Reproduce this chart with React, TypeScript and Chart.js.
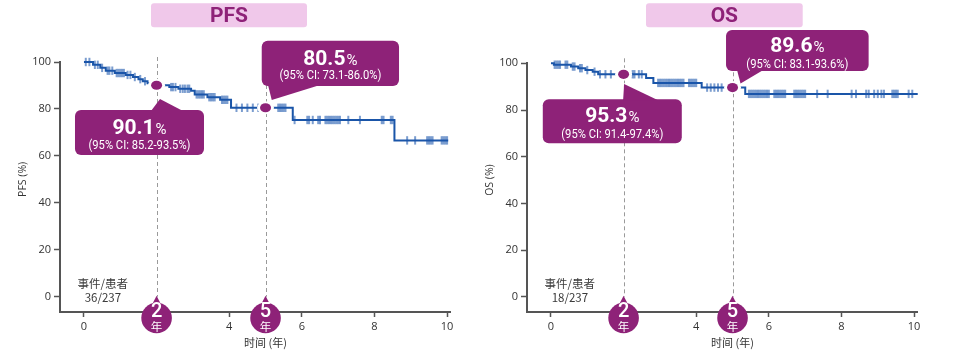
import React, { useEffect, useRef } from 'react';
import { Chart, registerables } from 'chart.js';

Chart.register(...registerables);

// ---------------- data ----------------
const xTickValues = [0, 2, 4, 6, 8, 10];
const yTickValues = [0, 20, 40, 60, 80, 100];
const landmarkYears = [2, 5];

// PFS Kaplan-Meier steps (time in years, survival %)
const pfsTimes = [0, 0.25, 0.45, 0.6, 0.85, 1.15, 1.35, 1.5, 1.62, 1.75, 1.85, 2.35, 2.6, 2.95, 3.05, 3.4, 3.75, 4.05, 5.75, 8.55, 10.03];
const pfsSurvival = [100, 98.8, 97.5, 96.3, 95.3, 94.5, 93.6, 92.7, 91.8, 90.9, 90.1, 89.3, 88.6, 87.8, 86.2, 85.0, 83.9, 80.5, 75.3, 66.6, 66.6];
const pfsCensorTimes = [
  0.05, 0.15, 0.3, 0.38, 0.5, 0.65, 0.7, 0.78, 0.9, 0.95, 1.0, 1.05, 1.1, 1.2, 1.28, 1.4, 1.55, 1.68,
  2.4, 2.45, 2.52, 2.65, 2.72, 2.78, 2.85, 2.9, 3.1, 3.15, 3.2, 3.25, 3.3, 3.45, 3.5, 3.55, 3.6,
  3.8, 3.85, 3.9, 3.95, 4.2, 4.35, 4.5, 4.65, 4.8, 5.35, 5.4, 5.45, 5.5, 5.55,
  5.8, 6.15, 6.2, 6.3, 6.45, 6.5, 6.65, 6.7, 6.75, 6.8, 6.85, 6.9, 6.95, 7.0, 7.05, 7.28, 7.6, 8.2, 8.25, 8.45, 8.5,
  8.9, 9.12, 9.45, 9.5, 9.55, 9.6, 9.85, 9.9, 9.95, 10.0,
];
const pfsCensorSurvival = [
  100, 100, 98.8, 98.8, 97.5, 96.3, 96.3, 96.3, 95.3, 95.3, 95.3, 95.3, 95.3, 94.5, 94.5, 93.6, 92.7, 91.8,
  89.3, 89.3, 89.3, 88.6, 88.6, 88.6, 88.6, 88.6, 86.2, 86.2, 86.2, 86.2, 86.2, 85.0, 85.0, 85.0, 85.0,
  83.9, 83.9, 83.9, 83.9, 80.5, 80.5, 80.5, 80.5, 80.5, 80.5, 80.5, 80.5, 80.5, 80.5,
  75.3, 75.3, 75.3, 75.3, 75.3, 75.3, 75.3, 75.3, 75.3, 75.3, 75.3, 75.3, 75.3, 75.3, 75.3, 75.3, 75.3, 75.3, 75.3, 75.3, 75.3,
  66.6, 66.6, 66.6, 66.6, 66.6, 66.6, 66.6, 66.6, 66.6, 66.6,
];
const pfsLandmarkValues = [90.1, 80.5];
const pfsLandmarkCI = ['(95% CI: 85.2-93.5%)', '(95% CI: 73.1-86.0%)'];
const pfsEvents = '36/237';

// OS Kaplan-Meier steps
const osTimes = [0, 0.08, 0.55, 0.75, 0.95, 1.15, 1.3, 2.62, 2.82, 4.15, 5.35, 10.1];
const osSurvival = [100, 99.4, 98.6, 97.9, 97.1, 96.4, 95.3, 93.7, 91.6, 89.6, 86.9, 86.9];
const osCensorTimes = [
  0.1, 0.15, 0.2, 0.25, 0.4, 0.45, 0.6, 0.65, 0.8, 0.85, 1.0, 1.2,
  1.35, 1.5, 1.65, 2.25, 2.3, 2.42, 2.5,
  2.95, 3.0, 3.05, 3.1, 3.15, 3.2, 3.25, 3.3, 3.35, 3.4, 3.45, 3.5, 3.55, 3.6, 3.65, 3.8, 3.85, 3.9, 3.95, 4.0,
  4.3, 4.4, 4.5, 4.6, 4.7,
  5.45, 5.5, 5.55, 5.6, 5.65, 5.7, 5.75, 5.8, 5.85, 5.9, 5.95, 6.0, 6.15, 6.2, 6.25, 6.3, 6.35, 6.4, 6.45,
  6.7, 6.75, 6.8, 6.85, 6.9, 6.95, 7.0, 7.33, 7.62, 8.28, 8.4, 8.68, 8.75, 8.9, 9.0, 9.1, 9.17, 9.4, 9.45, 9.5, 9.55, 9.85, 9.95,
];
const osCensorSurvival = [
  99.4, 99.4, 99.4, 99.4, 99.4, 99.4, 98.6, 98.6, 97.9, 97.9, 97.1, 96.4,
  95.3, 95.3, 95.3, 95.3, 95.3, 95.3, 95.3,
  91.6, 91.6, 91.6, 91.6, 91.6, 91.6, 91.6, 91.6, 91.6, 91.6, 91.6, 91.6, 91.6, 91.6, 91.6, 91.6, 91.6, 91.6, 91.6, 91.6,
  89.6, 89.6, 89.6, 89.6, 89.6,
  86.9, 86.9, 86.9, 86.9, 86.9, 86.9, 86.9, 86.9, 86.9, 86.9, 86.9, 86.9, 86.9, 86.9, 86.9, 86.9, 86.9, 86.9, 86.9,
  86.9, 86.9, 86.9, 86.9, 86.9, 86.9, 86.9, 86.9, 86.9, 86.9, 86.9, 86.9, 86.9, 86.9, 86.9, 86.9, 86.9, 86.9, 86.9, 86.9, 86.9, 86.9, 86.9,
];
const osLandmarkValues = [95.3, 89.6];
const osLandmarkCI = ['(95% CI: 91.4-97.4%)', '(95% CI: 83.1-93.6%)'];
const osEvents = '18/237';

// ---------------- styles / layout ----------------
const PURPLE = '#8e2278';
const PINK = '#f0c8ea';
const BLUE = '#1a55a8';
const CENSOR = 'rgba(28, 86, 172, 0.58)';
const AXIS = '#555';
const TEXT = '#333';
const CJK = '"Noto Sans CJK SC", "Noto Sans", sans-serif';
const SANS = '"Open Sans", "Noto Sans", sans-serif';

type Callout = { box: number[]; apex: number[]; base: number[]; valueDy: number; ciDy: number };

type PanelProps = {
  left: number;
  width: number;
  top: number;
  title: string;
  titleBox: number[];
  yLabel: string;
  times: number[];
  survival: number[];
  censorTimes: number[];
  censorSurvival: number[];
  landmarkValues: number[];
  landmarkCI: string[];
  events: string;
  callouts: Callout[];
};

function drawCallout(ctx: CanvasRenderingContext2D, px: number, py: number, L: Callout, value: number, ci: string) {
  const x0 = px + L.box[0], y0 = py + L.box[1], x1 = px + L.box[2], y1 = py + L.box[3];
  ctx.save();
  ctx.fillStyle = PURPLE;
  ctx.beginPath();
  (ctx as any).roundRect(x0, y0, x1 - x0, y1 - y0, 6);
  ctx.fill();
  const edgeY = L.box[1] > 0 ? y0 + 1 : y1 - 1;
  ctx.beginPath();
  ctx.moveTo(px + L.base[0], edgeY);
  ctx.lineTo(px + L.apex[0], py + L.apex[1]);
  ctx.lineTo(px + L.base[1], edgeY);
  ctx.closePath();
  ctx.fill();

  const cx = (x0 + x1) / 2;
  const vText = value.toFixed(1);
  ctx.fillStyle = '#fff';
  ctx.textBaseline = 'alphabetic';
  ctx.textAlign = 'left';
  ctx.font = 'bold 21px Roboto, sans-serif';
  const w1 = ctx.measureText(vText).width;
  ctx.font = '15px Roboto, sans-serif';
  const w2 = ctx.measureText('%').width;
  const start = cx - (w1 + w2 + 1) / 2;
  ctx.font = 'bold 21px Roboto, sans-serif';
  ctx.fillText(vText, start, y0 + L.valueDy);
  ctx.font = '15px Roboto, sans-serif';
  ctx.fillText('%', start + w1 + 1, y0 + L.valueDy);
  ctx.font = '12px Roboto, sans-serif';
  ctx.textAlign = 'center';
  ctx.fillText(ci, cx, y0 + L.ciDy, 102);
  ctx.restore();
}

function drawYearBubble(ctx: CanvasRenderingContext2D, px: number, tipY: number, cy: number, year: number) {
  ctx.save();
  ctx.fillStyle = PURPLE;
  ctx.beginPath();
  ctx.arc(px, cy, 15.3, 0, Math.PI * 2);
  ctx.fill();
  ctx.beginPath();
  ctx.moveTo(px - 4.5, cy - 13.5);
  ctx.lineTo(px, tipY);
  ctx.lineTo(px + 4.5, cy - 13.5);
  ctx.closePath();
  ctx.fill();
  ctx.fillStyle = '#fff';
  ctx.textAlign = 'center';
  ctx.textBaseline = 'middle';
  ctx.font = '500 20px Roboto, sans-serif';
  ctx.fillText(String(year), px, cy - 6.5);
  ctx.font = `11.5px ${CJK}`;
  ctx.fillText('年', px, cy + 9);
  ctx.restore();
}

function KMPanel(p: PanelProps) {
  const ref = useRef<HTMLCanvasElement>(null);

  useEffect(() => {
    const canvas = ref.current;
    if (!canvas) return;

    const decor = {
      id: 'kmDecor',
      beforeDatasetsDraw(chart: any) {
        const ctx: CanvasRenderingContext2D = chart.ctx;
        const xs = chart.scales.x, ys = chart.scales.y;
        ctx.save();
        ctx.strokeStyle = '#9a9a9a';
        ctx.lineWidth = 1;
        ctx.setLineDash([4, 3]);
        landmarkYears.forEach((yr) => {
          const px = Math.round(xs.getPixelForValue(yr)) + 0.5;
          ctx.beginPath();
          ctx.moveTo(px, chart.chartArea.top - 5);
          ctx.lineTo(px, ys.getPixelForValue(0));
          ctx.stroke();
        });
        ctx.restore();
      },
      afterDraw(chart: any) {
        const ctx: CanvasRenderingContext2D = chart.ctx;
        const xs = chart.scales.x, ys = chart.scales.y;
        const area = chart.chartArea;

        // title box
        ctx.save();
        ctx.fillStyle = PINK;
        ctx.beginPath();
        (ctx as any).roundRect(p.titleBox[0], p.titleBox[1], p.titleBox[2] - p.titleBox[0], p.titleBox[3] - p.titleBox[1], 3);
        ctx.fill();
        ctx.fillStyle = PURPLE;
        ctx.font = 'bold 21px Roboto, sans-serif';
        ctx.textAlign = 'center';
        ctx.textBaseline = 'middle';
        ctx.fillText(p.title, (p.titleBox[0] + p.titleBox[2]) / 2, (p.titleBox[1] + p.titleBox[3]) / 2 + 1);
        ctx.restore();

        // axis titles
        ctx.save();
        ctx.fillStyle = TEXT;
        ctx.font = `11px ${CJK}`;
        ctx.textAlign = 'center';
        ctx.textBaseline = 'middle';
        ctx.fillText('时间 (年)', xs.getPixelForValue(5), 343);
        ctx.translate(23, ys.getPixelForValue(50));
        ctx.rotate(-Math.PI / 2);
        ctx.font = `10.5px ${SANS}`;
        ctx.fillText(p.yLabel, 0, 0);
        ctx.restore();

        // events / patients
        ctx.save();
        ctx.fillStyle = '#3a3a3a';
        ctx.font = `11.5px ${CJK}`;
        ctx.textAlign = 'center';
        ctx.textBaseline = 'middle';
        const ex = xs.getPixelForValue(0.52);
        ctx.fillText('事件/患者', ex, 284);
        ctx.fillText(p.events, ex, 297.5);
        ctx.restore();

        // landmark callouts + dots
        landmarkYears.forEach((yr, i) => {
          const px = xs.getPixelForValue(yr);
          const py = ys.getPixelForValue(p.landmarkValues[i]);
          drawCallout(ctx, px, py, p.callouts[i], p.landmarkValues[i], p.landmarkCI[i]);
          ctx.save();
          ctx.fillStyle = '#fff';
          ctx.beginPath();
          ctx.ellipse(px, py, 8.5, 6.5, 0, 0, Math.PI * 2);
          ctx.fill();
          ctx.fillStyle = PURPLE;
          ctx.beginPath();
          ctx.ellipse(px, py, 5.5, 4.6, 0, 0, Math.PI * 2);
          ctx.fill();
          ctx.restore();
        });

        // year bubbles
        landmarkYears.forEach((yr) => {
          drawYearBubble(ctx, xs.getPixelForValue(yr), ys.getPixelForValue(0) - 1, area.bottom + 6, yr);
        });
      },
    };

    const chart = new Chart(canvas, {
      type: 'line',
      data: {
        datasets: [
          {
            type: 'line',
            data: p.censorTimes.map((t, i) => ({ x: t, y: p.censorSurvival[i] })),
            showLine: false,
            pointStyle: 'line',
            rotation: 90,
            pointRadius: 4.2,
            pointBorderWidth: 2,
            pointBorderColor: CENSOR,
            pointBackgroundColor: CENSOR,
            borderColor: CENSOR,
            clip: false,
          } as any,
          {
            type: 'line',
            data: p.times.map((t, i) => ({ x: t, y: p.survival[i] })),
            stepped: true,
            borderColor: BLUE,
            borderWidth: 2,
            pointRadius: 0,
            fill: false,
            clip: false,
          } as any,
        ],
      },
      options: {
        responsive: false,
        animation: false,
        events: [],
        layout: { padding: { top: p.top, right: p.width - 450, left: 0, bottom: 0 } },
        plugins: { legend: { display: false }, tooltip: { enabled: false }, title: { display: false } },
        scales: {
          x: {
            type: 'linear',
            min: -0.66,
            max: 10.08,
            afterBuildTicks: (s: any) => { s.ticks = xTickValues.map((v) => ({ value: v })); },
            afterFit: (s: any) => { s.height = 45; },
            border: { display: true, color: AXIS, width: 2 },
            grid: { drawOnChartArea: false, drawTicks: true, tickLength: 5, tickColor: AXIS, tickWidth: 1.5 },
            ticks: { color: TEXT, font: { family: SANS, size: 11 }, padding: 3, maxRotation: 0, autoSkip: false },
          },
          y: {
            type: 'linear',
            min: -6.5,
            max: 100,
            afterBuildTicks: (s: any) => { s.ticks = yTickValues.map((v) => ({ value: v })); },
            afterFit: (s: any) => { s.width = 60; },
            border: { display: true, color: AXIS, width: 2 },
            grid: { drawOnChartArea: false, drawTicks: true, tickLength: 6, tickColor: AXIS, tickWidth: 1.5 },
            ticks: { color: TEXT, font: { family: SANS, size: 11 }, padding: 3, autoSkip: false },
          },
        },
      } as any,
      plugins: [decor],
    });
    return () => chart.destroy();
  }, []);

  return (
    <canvas
      ref={ref}
      width={p.width}
      height={357}
      style={{ position: 'absolute', left: p.left, top: 0, width: p.width, height: 357 }}
    />
  );
}

const pfsCallouts: Callout[] = [
  { box: [-81.6, 24.8, 47.4, 69.8], apex: [3.4, 13.8], base: [-5.6, 26.4], valueDy: 23.5, ciDy: 39 },
  { box: [-3.8, -67.1, 133.5, -21.8], apex: [6.2, -7.8], base: [2.5, 54.5], valueDy: 24, ciDy: 38.5 },
];
const osCallouts: Callout[] = [
  { box: [-80.8, 25, 58.2, 69], apex: [0.5, 9.7], base: [-0.5, 34.5], valueDy: 23.2, ciDy: 38.3 },
  { box: [-6.5, -57.6, 136.1, -16.6], apex: [8, -4], base: [4.5, 30.8], valueDy: 21.8, ciDy: 37.6 },
];

export default function App() {
  return (
    <div style={{ position: 'absolute', left: 0, top: 0, width: 953, height: 357, background: '#fff', overflow: 'hidden' }}>
      <KMPanel
        left={0}
        width={467}
        top={62}
        title="PFS"
        titleBox={[151, 3.3, 307, 27.3]}
        yLabel="PFS (%)"
        times={pfsTimes}
        survival={pfsSurvival}
        censorTimes={pfsCensorTimes}
        censorSurvival={pfsCensorSurvival}
        landmarkValues={pfsLandmarkValues}
        landmarkCI={pfsLandmarkCI}
        events={pfsEvents}
        callouts={pfsCallouts}
      />
      <KMPanel
        left={467}
        width={486}
        top={63.3}
        title="OS"
        titleBox={[179, 3.3, 335.7, 27.3]}
        yLabel="OS (%)"
        times={osTimes}
        survival={osSurvival}
        censorTimes={osCensorTimes}
        censorSurvival={osCensorSurvival}
        landmarkValues={osLandmarkValues}
        landmarkCI={osLandmarkCI}
        events={osEvents}
        callouts={osCallouts}
      />
    </div>
  );
}
